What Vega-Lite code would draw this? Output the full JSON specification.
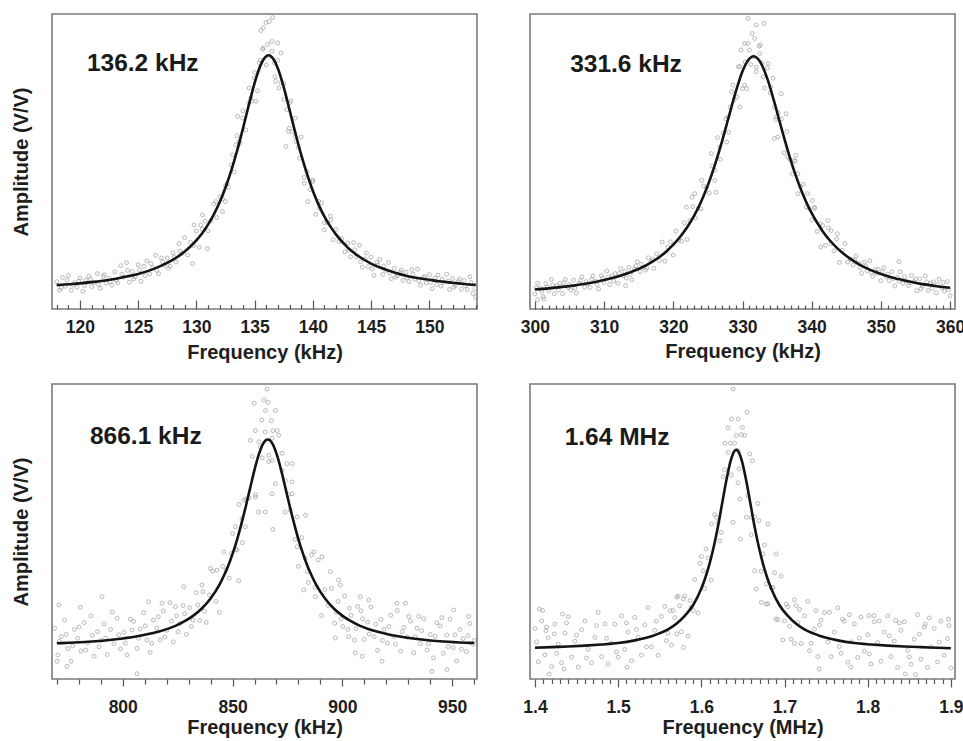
{
"$schema": "https://vega.github.io/schema/vega-lite/v6.json",
"padding": {"left": 10, "top": 12, "right": 0, "bottom": 0},
"background": "white",
"config": {
  "font": "Liberation Sans",
  "view": {"stroke": "#7a7a7a", "strokeWidth": 1.6},
  "axis": {"grid": false, "domain": false, "labelFont": "Liberation Sans", "labelFontSize": 17.5, "labelFontWeight": "bold", "labelColor": "#1e1e1e", "titleFont": "Liberation Sans", "titleFontSize": 20, "titleFontWeight": "bold", "titleColor": "#1e1e1e", "tickColor": "#555555", "tickWidth": 1.2, "labelOverlap": false, "labelFlush": false, "labelBound": false},
  "axisY": {"titlePadding": 21},
  "axisX": {"titlePadding": 2}
},
"datasets": {
"p1": [
{"freq":118.00,"amp":0.093},{"freq":118.25,"amp":0.064},{"freq":118.50,"amp":0.107},{"freq":118.75,"amp":0.077},{"freq":119.00,"amp":0.114},{"freq":119.25,"amp":0.063},{"freq":119.50,"amp":0.089},{"freq":119.75,"amp":0.074},{"freq":120.00,"amp":0.105},{"freq":120.25,"amp":0.060},{"freq":120.50,"amp":0.098},{"freq":120.75,"amp":0.111},{"freq":121.00,"amp":0.076},{"freq":121.25,"amp":0.090},{"freq":121.50,"amp":0.120},{"freq":121.75,"amp":0.070},{"freq":122.00,"amp":0.110},{"freq":122.25,"amp":0.088},{"freq":122.50,"amp":0.105},{"freq":122.75,"amp":0.081},{"freq":123.00,"amp":0.126},{"freq":123.25,"amp":0.089},{"freq":123.50,"amp":0.147},{"freq":123.75,"amp":0.108},{"freq":124.00,"amp":0.157},{"freq":124.25,"amp":0.091},{"freq":124.50,"amp":0.127},{"freq":124.75,"amp":0.109},{"freq":125.00,"amp":0.150},{"freq":125.25,"amp":0.094},{"freq":125.50,"amp":0.145},{"freq":125.75,"amp":0.163},{"freq":126.00,"amp":0.119},{"freq":126.25,"amp":0.140},{"freq":126.50,"amp":0.182},{"freq":126.75,"amp":0.120},{"freq":127.00,"amp":0.173},{"freq":127.25,"amp":0.148},{"freq":127.50,"amp":0.173},{"freq":127.75,"amp":0.145},{"freq":128.00,"amp":0.191},{"freq":128.25,"amp":0.159},{"freq":128.50,"amp":0.222},{"freq":128.75,"amp":0.188},{"freq":129.00,"amp":0.242},{"freq":129.25,"amp":0.183},{"freq":129.50,"amp":0.226},{"freq":129.75,"amp":0.215},{"freq":130.00,"amp":0.264},{"freq":130.25,"amp":0.209},{"freq":130.50,"amp":0.270},{"freq":130.75,"amp":0.298},{"freq":131.00,"amp":0.265},{"freq":131.25,"amp":0.300},{"freq":131.50,"amp":0.356},{"freq":131.75,"amp":0.310},{"freq":132.00,"amp":0.380},{"freq":132.25,"amp":0.373},{"freq":132.50,"amp":0.418},{"freq":132.75,"amp":0.412},{"freq":133.00,"amp":0.489},{"freq":133.25,"amp":0.464},{"freq":133.50,"amp":0.587},{"freq":133.75,"amp":0.562},{"freq":134.00,"amp":0.672},{"freq":134.25,"amp":0.607},{"freq":134.50,"amp":0.699},{"freq":134.75,"amp":0.705},{"freq":135.00,"amp":0.802},{"freq":135.25,"amp":0.740},{"freq":135.50,"amp":0.843},{"freq":135.75,"amp":0.885},{"freq":136.00,"amp":0.827},{"freq":136.25,"amp":0.856},{"freq":136.50,"amp":0.907},{"freq":136.75,"amp":0.788},{"freq":137.00,"amp":0.843},{"freq":137.25,"amp":0.767},{"freq":137.50,"amp":0.764},{"freq":137.75,"amp":0.676},{"freq":138.00,"amp":0.699},{"freq":138.25,"amp":0.600},{"freq":138.50,"amp":0.647},{"freq":138.75,"amp":0.548},{"freq":139.00,"amp":0.583},{"freq":139.25,"amp":0.446},{"freq":139.50,"amp":0.466},{"freq":139.75,"amp":0.405},{"freq":140.00,"amp":0.437},{"freq":140.25,"amp":0.321},{"freq":140.50,"amp":0.365},{"freq":140.75,"amp":0.360},{"freq":141.00,"amp":0.293},{"freq":141.25,"amp":0.293},{"freq":141.50,"amp":0.315},{"freq":141.75,"amp":0.235},{"freq":142.00,"amp":0.270},{"freq":142.25,"amp":0.229},{"freq":142.50,"amp":0.238},{"freq":142.75,"amp":0.194},{"freq":143.00,"amp":0.224},{"freq":143.25,"amp":0.177},{"freq":143.50,"amp":0.225},{"freq":143.75,"amp":0.177},{"freq":144.00,"amp":0.216},{"freq":144.25,"amp":0.142},{"freq":144.50,"amp":0.170},{"freq":144.75,"amp":0.144},{"freq":145.00,"amp":0.177},{"freq":145.25,"amp":0.114},{"freq":145.50,"amp":0.158},{"freq":145.75,"amp":0.168},{"freq":146.00,"amp":0.117},{"freq":146.25,"amp":0.131},{"freq":146.50,"amp":0.158},{"freq":146.75,"amp":0.103},{"freq":147.00,"amp":0.138},{"freq":147.25,"amp":0.112},{"freq":147.50,"amp":0.125},{"freq":147.75,"amp":0.097},{"freq":148.00,"amp":0.125},{"freq":148.25,"amp":0.093},{"freq":148.50,"amp":0.134},{"freq":148.75,"amp":0.101},{"freq":149.00,"amp":0.135},{"freq":149.25,"amp":0.081},{"freq":149.50,"amp":0.106},{"freq":149.75,"amp":0.088},{"freq":150.00,"amp":0.117},{"freq":150.25,"amp":0.069},{"freq":150.50,"amp":0.105},{"freq":150.75,"amp":0.115},{"freq":151.00,"amp":0.078},{"freq":151.25,"amp":0.090},{"freq":151.50,"amp":0.118},{"freq":151.75,"amp":0.066},{"freq":152.00,"amp":0.103},{"freq":152.25,"amp":0.079},{"freq":152.50,"amp":0.093},{"freq":152.75,"amp":0.067},{"freq":153.00,"amp":0.097},{"freq":153.25,"amp":0.066},{"freq":153.50,"amp":0.109},{"freq":153.75,"amp":0.053},{"freq":154.00,"amp":0.040},
{"freq":135.54,"amp":0.944},{"freq":135.97,"amp":0.971},{"freq":136.26,"amp":0.974},{"freq":136.55,"amp":0.988},{"freq":135.75,"amp":0.953},{"freq":136.12,"amp":0.897},{"freq":135.69,"amp":0.880},{"freq":136.49,"amp":0.874},{"freq":136.98,"amp":0.902},{"freq":137.27,"amp":0.868},{"freq":135.40,"amp":0.834},{"freq":136.70,"amp":0.834},{"freq":136.80,"amp":0.772},{"freq":137.10,"amp":0.749},{"freq":137.50,"amp":0.710},{"freq":138.10,"amp":0.706},{"freq":137.70,"amp":0.551},{"freq":137.90,"amp":0.602},{"freq":138.50,"amp":0.585},{"freq":137.98,"amp":0.613},{"freq":138.56,"amp":0.568},{"freq":138.85,"amp":0.511},{"freq":139.28,"amp":0.426},{"freq":140.00,"amp":0.432},{"freq":139.56,"amp":0.364},{"freq":140.57,"amp":0.341},{"freq":141.57,"amp":0.302},{"freq":140.99,"amp":0.268},{"freq":134.68,"amp":0.715},{"freq":133.97,"amp":0.647},{"freq":133.53,"amp":0.653},{"freq":133.68,"amp":0.568},{"freq":133.10,"amp":0.523},{"freq":133.39,"amp":0.557},{"freq":132.67,"amp":0.426},{"freq":132.47,"amp":0.364},{"freq":131.67,"amp":0.364},{"freq":132.24,"amp":0.330},{"freq":130.52,"amp":0.319},{"freq":129.80,"amp":0.285},{"freq":130.38,"amp":0.285},{"freq":129.66,"amp":0.154},{"freq":130.95,"amp":0.205},{"freq":135.11,"amp":0.704},{"freq":134.97,"amp":0.783},{"freq":134.54,"amp":0.749},
{"freq":118.4,"amp":0.072},{"freq":118.9,"amp":0.098},{"freq":119.4,"amp":0.081},{"freq":119.9,"amp":0.094},{"freq":120.4,"amp":0.079},{"freq":120.9,"amp":0.101},{"freq":121.6,"amp":0.083},{"freq":122.1,"amp":0.116},{"freq":122.6,"amp":0.092},{"freq":123.1,"amp":0.097},{"freq":123.6,"amp":0.118},{"freq":124.1,"amp":0.131},{"freq":124.6,"amp":0.102},{"freq":125.1,"amp":0.133},{"freq":125.6,"amp":0.113},{"freq":126.1,"amp":0.154},{"freq":126.6,"amp":0.131},{"freq":127.1,"amp":0.160},{"freq":127.6,"amp":0.138},{"freq":128.1,"amp":0.176},{"freq":128.6,"amp":0.196},
{"freq":143.1,"amp":0.199},{"freq":143.6,"amp":0.201},{"freq":144.1,"amp":0.160},{"freq":144.6,"amp":0.190},{"freq":145.1,"amp":0.136},{"freq":145.6,"amp":0.150},{"freq":146.1,"amp":0.146},{"freq":146.6,"amp":0.122},{"freq":147.1,"amp":0.108},{"freq":147.6,"amp":0.132},{"freq":148.1,"amp":0.105},{"freq":148.6,"amp":0.118},{"freq":149.1,"amp":0.096},{"freq":149.6,"amp":0.110},{"freq":150.1,"amp":0.090},{"freq":150.6,"amp":0.083},{"freq":151.1,"amp":0.101},{"freq":151.6,"amp":0.095},{"freq":152.1,"amp":0.074},{"freq":152.6,"amp":0.102},{"freq":153.1,"amp":0.079},{"freq":153.6,"amp":0.090},{"freq":153.9,"amp":0.070}
],
"l1": [
{"freq":118,"amp":0.081},{"freq":119,"amp":0.084},{"freq":120,"amp":0.087},{"freq":121,"amp":0.091},{"freq":122,"amp":0.096},{"freq":123,"amp":0.102},{"freq":124,"amp":0.110},{"freq":125,"amp":0.119},{"freq":126,"amp":0.131},{"freq":127,"amp":0.147},{"freq":128,"amp":0.167},{"freq":129,"amp":0.195},{"freq":130,"amp":0.233},{"freq":130.5,"amp":0.257},{"freq":131,"amp":0.286},{"freq":131.5,"amp":0.321},{"freq":132,"amp":0.362},{"freq":132.5,"amp":0.412},{"freq":133,"amp":0.470},{"freq":133.5,"amp":0.537},{"freq":134,"amp":0.612},{"freq":134.5,"amp":0.691},{"freq":135,"amp":0.766},{"freq":135.5,"amp":0.825},{"freq":135.75,"amp":0.845},{"freq":136,"amp":0.857},{"freq":136.2,"amp":0.860},{"freq":136.5,"amp":0.853},{"freq":136.75,"amp":0.838},{"freq":137,"amp":0.815},{"freq":137.5,"amp":0.752},{"freq":138,"amp":0.675},{"freq":138.5,"amp":0.597},{"freq":139,"amp":0.523},{"freq":139.5,"amp":0.458},{"freq":140,"amp":0.401},{"freq":140.5,"amp":0.353},{"freq":141,"amp":0.313},{"freq":141.5,"amp":0.280},{"freq":142,"amp":0.252},{"freq":143,"amp":0.208},{"freq":144,"amp":0.177},{"freq":145,"amp":0.154},{"freq":146,"amp":0.137},{"freq":147,"amp":0.124},{"freq":148,"amp":0.113},{"freq":149,"amp":0.105},{"freq":150,"amp":0.099},{"freq":151,"amp":0.093},{"freq":152,"amp":0.089},{"freq":153,"amp":0.085},{"freq":154,"amp":0.082}
],
"p2": [
{"freq":300.0,"amp":0.051},{"freq":300.4,"amp":0.088},{"freq":300.8,"amp":0.070},{"freq":301.2,"amp":0.042},{"freq":301.6,"amp":0.086},{"freq":302.0,"amp":0.062},{"freq":302.4,"amp":0.100},{"freq":302.8,"amp":0.052},{"freq":303.2,"amp":0.079},{"freq":303.6,"amp":0.087},{"freq":304.0,"amp":0.052},{"freq":304.4,"amp":0.100},{"freq":304.8,"amp":0.073},{"freq":305.2,"amp":0.064},{"freq":305.6,"amp":0.098},{"freq":306.0,"amp":0.054},{"freq":306.4,"amp":0.087},{"freq":306.8,"amp":0.109},{"freq":307.2,"amp":0.074},{"freq":307.6,"amp":0.085},{"freq":308.0,"amp":0.073},{"freq":308.4,"amp":0.112},{"freq":308.8,"amp":0.095},{"freq":309.2,"amp":0.068},{"freq":309.6,"amp":0.113},{"freq":310.0,"amp":0.090},{"freq":310.4,"amp":0.129},{"freq":310.8,"amp":0.083},{"freq":311.2,"amp":0.112},{"freq":311.6,"amp":0.120},{"freq":312.0,"amp":0.087},{"freq":312.4,"amp":0.137},{"freq":312.8,"amp":0.112},{"freq":313.2,"amp":0.105},{"freq":313.6,"amp":0.141},{"freq":314.0,"amp":0.099},{"freq":314.4,"amp":0.135},{"freq":314.8,"amp":0.160},{"freq":315.2,"amp":0.127},{"freq":315.6,"amp":0.141},{"freq":316.0,"amp":0.132},{"freq":316.4,"amp":0.174},{"freq":316.8,"amp":0.161},{"freq":317.2,"amp":0.138},{"freq":317.6,"amp":0.187},{"freq":318.0,"amp":0.164},{"freq":318.4,"amp":0.227},{"freq":318.8,"amp":0.162},{"freq":319.2,"amp":0.210},{"freq":319.6,"amp":0.228},{"freq":320.0,"amp":0.183},{"freq":320.4,"amp":0.264},{"freq":320.8,"amp":0.233},{"freq":321.2,"amp":0.230},{"freq":321.6,"amp":0.292},{"freq":322.0,"amp":0.236},{"freq":322.4,"amp":0.300},{"freq":322.8,"amp":0.347},{"freq":323.2,"amp":0.308},{"freq":323.6,"amp":0.341},{"freq":324.0,"amp":0.340},{"freq":324.4,"amp":0.417},{"freq":324.8,"amp":0.412},{"freq":325.2,"amp":0.393},{"freq":325.6,"amp":0.485},{"freq":326.0,"amp":0.470},{"freq":326.4,"amp":0.581},{"freq":326.8,"amp":0.507},{"freq":327.2,"amp":0.596},{"freq":327.6,"amp":0.644},{"freq":328.0,"amp":0.599},{"freq":328.4,"amp":0.737},{"freq":328.8,"amp":0.709},{"freq":329.2,"amp":0.719},{"freq":329.6,"amp":0.822},{"freq":330.0,"amp":0.747},{"freq":330.4,"amp":0.837},{"freq":330.8,"amp":0.900},{"freq":331.2,"amp":0.829},{"freq":331.6,"amp":0.855},{"freq":332.0,"amp":0.820},{"freq":332.4,"amp":0.891},{"freq":332.8,"amp":0.833},{"freq":333.2,"amp":0.749},{"freq":333.6,"amp":0.817},{"freq":334.0,"amp":0.732},{"freq":334.4,"amp":0.782},{"freq":334.8,"amp":0.642},{"freq":335.2,"amp":0.665},{"freq":335.6,"amp":0.644},{"freq":336.0,"amp":0.530},{"freq":336.4,"amp":0.602},{"freq":336.8,"amp":0.508},{"freq":337.2,"amp":0.457},{"freq":337.6,"amp":0.501},{"freq":338.0,"amp":0.391},{"freq":338.4,"amp":0.415},{"freq":338.8,"amp":0.423},{"freq":339.2,"amp":0.346},{"freq":339.6,"amp":0.341},{"freq":340.0,"amp":0.302},{"freq":340.4,"amp":0.341},{"freq":340.8,"amp":0.263},{"freq":341.2,"amp":0.288},{"freq":341.6,"amp":0.283},{"freq":342.0,"amp":0.216},{"freq":342.4,"amp":0.275},{"freq":342.8,"amp":0.222},{"freq":343.2,"amp":0.197},{"freq":343.6,"amp":0.237},{"freq":344.0,"amp":0.158},{"freq":344.4,"amp":0.199},{"freq":344.8,"amp":0.222},{"freq":345.2,"amp":0.159},{"freq":345.6,"amp":0.168},{"freq":346.0,"amp":0.149},{"freq":346.4,"amp":0.180},{"freq":346.8,"amp":0.155},{"freq":347.2,"amp":0.121},{"freq":347.6,"amp":0.159},{"freq":348.0,"amp":0.130},{"freq":348.4,"amp":0.163},{"freq":348.8,"amp":0.111},{"freq":349.2,"amp":0.133},{"freq":349.6,"amp":0.135},{"freq":350.0,"amp":0.096},{"freq":350.4,"amp":0.140},{"freq":350.8,"amp":0.109},{"freq":351.2,"amp":0.096},{"freq":351.6,"amp":0.126},{"freq":352.0,"amp":0.078},{"freq":352.4,"amp":0.107},{"freq":352.8,"amp":0.126},{"freq":353.2,"amp":0.087},{"freq":353.6,"amp":0.095},{"freq":354.0,"amp":0.079},{"freq":354.4,"amp":0.114},{"freq":354.8,"amp":0.093},{"freq":355.2,"amp":0.062},{"freq":355.6,"amp":0.103},{"freq":356.0,"amp":0.077},{"freq":356.4,"amp":0.112},{"freq":356.8,"amp":0.063},{"freq":357.2,"amp":0.088},{"freq":357.6,"amp":0.092},{"freq":358.0,"amp":0.055},{"freq":358.4,"amp":0.101},{"freq":358.8,"amp":0.072},{"freq":359.2,"amp":0.061},{"freq":359.6,"amp":0.093},{"freq":360.0,"amp":0.045},
{"freq":330.8,"amp":0.985},{"freq":332.0,"amp":0.963},{"freq":333.1,"amp":0.968},{"freq":331.4,"amp":0.934},{"freq":331.75,"amp":0.917},{"freq":330.3,"amp":0.900},{"freq":329.8,"amp":0.878},{"freq":331.0,"amp":0.878},{"freq":332.6,"amp":0.895},{"freq":332.5,"amp":0.866},{"freq":333.7,"amp":0.832},{"freq":332.0,"amp":0.804},{"freq":333.0,"amp":0.787},{"freq":329.4,"amp":0.821},{"freq":328.6,"amp":0.759},{"freq":330.3,"amp":0.759},{"freq":330.6,"amp":0.747},{"freq":329.6,"amp":0.685},{"freq":328.2,"amp":0.685},{"freq":327.9,"amp":0.651},{"freq":327.7,"amp":0.566},{"freq":334.1,"amp":0.753},{"freq":334.6,"amp":0.685},{"freq":335.6,"amp":0.730},{"freq":334.9,"amp":0.651},{"freq":336.3,"amp":0.662},{"freq":335.1,"amp":0.583},{"freq":334.6,"amp":0.578},{"freq":336.5,"amp":0.515},{"freq":337.7,"amp":0.521},{"freq":338.0,"amp":0.459},{"freq":337.5,"amp":0.504},{"freq":326.7,"amp":0.549},{"freq":326.2,"amp":0.396},{"freq":326.0,"amp":0.436},{"freq":325.5,"amp":0.527},{"freq":324.1,"amp":0.436},{"freq":323.1,"amp":0.391},{"freq":322.7,"amp":0.379},{"freq":321.9,"amp":0.345},{"freq":339.4,"amp":0.391},{"freq":340.1,"amp":0.368},{"freq":340.4,"amp":0.345},{"freq":342.3,"amp":0.300},{"freq":342.8,"amp":0.266},{"freq":343.7,"amp":0.255},{"freq":341.3,"amp":0.210},{"freq":352.6,"amp":0.161},{"freq":300.4,"amp":0.031},{"freq":301.3,"amp":0.034},{"freq":313.1,"amp":0.079},
{"freq":300.2,"amp":0.072},{"freq":301.0,"amp":0.060},{"freq":301.8,"amp":0.075},{"freq":302.6,"amp":0.081},{"freq":303.4,"amp":0.064},{"freq":304.2,"amp":0.089},{"freq":305.0,"amp":0.083},{"freq":305.8,"amp":0.071},{"freq":306.6,"amp":0.096},{"freq":307.4,"amp":0.093},{"freq":308.2,"amp":0.101},{"freq":309.0,"amp":0.083},{"freq":309.8,"amp":0.104},{"freq":310.6,"amp":0.108},{"freq":311.4,"amp":0.095},{"freq":312.2,"amp":0.121},{"freq":313.0,"amp":0.127},{"freq":313.8,"amp":0.117},{"freq":314.6,"amp":0.146},{"freq":315.4,"amp":0.152},{"freq":316.2,"amp":0.139},{"freq":317.0,"amp":0.168},
{"freq":346.2,"amp":0.166},{"freq":347.0,"amp":0.140},{"freq":347.8,"amp":0.146},{"freq":348.6,"amp":0.124},{"freq":349.4,"amp":0.121},{"freq":350.2,"amp":0.126},{"freq":351.0,"amp":0.118},{"freq":351.8,"amp":0.103},{"freq":352.6,"amp":0.094},{"freq":353.4,"amp":0.110},{"freq":354.2,"amp":0.089},{"freq":355.0,"amp":0.101},{"freq":355.8,"amp":0.069},{"freq":356.6,"amp":0.092},{"freq":357.4,"amp":0.070},{"freq":358.2,"amp":0.083},{"freq":359.0,"amp":0.090},{"freq":359.8,"amp":0.066}
],
"l2": [
{"freq":300,"amp":0.066},{"freq":302,"amp":0.070},{"freq":304,"amp":0.075},{"freq":306,"amp":0.081},{"freq":308,"amp":0.088},{"freq":310,"amp":0.098},{"freq":312,"amp":0.110},{"freq":314,"amp":0.126},{"freq":316,"amp":0.147},{"freq":318,"amp":0.176},{"freq":319,"amp":0.195},{"freq":320,"amp":0.218},{"freq":321,"amp":0.245},{"freq":322,"amp":0.277},{"freq":323,"amp":0.316},{"freq":324,"amp":0.363},{"freq":325,"amp":0.420},{"freq":326,"amp":0.488},{"freq":327,"amp":0.565},{"freq":328,"amp":0.650},{"freq":329,"amp":0.734},{"freq":330,"amp":0.806},{"freq":331,"amp":0.849},{"freq":331.6,"amp":0.857},{"freq":332.2,"amp":0.849},{"freq":332.6,"amp":0.836},{"freq":333.6,"amp":0.780},{"freq":334.6,"amp":0.701},{"freq":335.6,"amp":0.615},{"freq":336.6,"amp":0.533},{"freq":337.6,"amp":0.459},{"freq":338.6,"amp":0.396},{"freq":339.6,"amp":0.343},{"freq":340.6,"amp":0.300},{"freq":341.6,"amp":0.263},{"freq":342.6,"amp":0.233},{"freq":343.6,"amp":0.208},{"freq":344.6,"amp":0.187},{"freq":345.6,"amp":0.170},{"freq":346.6,"amp":0.155},{"freq":347.6,"amp":0.142},{"freq":349.6,"amp":0.122},{"freq":351.6,"amp":0.107},{"freq":353.6,"amp":0.096},{"freq":355.6,"amp":0.086},{"freq":357.6,"amp":0.079},{"freq":360,"amp":0.072}
],
"p3": [
{"freq":769.0,"amp":0.172},{"freq":770.5,"amp":0.081},{"freq":772.0,"amp":0.144},{"freq":773.5,"amp":0.199},{"freq":775.0,"amp":0.103},{"freq":776.5,"amp":0.060},{"freq":778.0,"amp":0.168},{"freq":779.5,"amp":0.138},{"freq":781.0,"amp":0.095},{"freq":782.5,"amp":0.191},{"freq":784.0,"amp":0.122},{"freq":785.5,"amp":0.214},{"freq":787.0,"amp":0.077},{"freq":788.5,"amp":0.161},{"freq":790.0,"amp":0.131},{"freq":791.5,"amp":0.187},{"freq":793.0,"amp":0.083},{"freq":794.5,"amp":0.168},{"freq":796.0,"amp":0.120},{"freq":797.5,"amp":0.206},{"freq":799.0,"amp":0.102},{"freq":800.5,"amp":0.158},{"freq":802.0,"amp":0.082},{"freq":803.5,"amp":0.203},{"freq":805.0,"amp":0.195},{"freq":806.5,"amp":0.104},{"freq":808.0,"amp":0.169},{"freq":809.5,"amp":0.225},{"freq":811.0,"amp":0.132},{"freq":812.5,"amp":0.090},{"freq":814.0,"amp":0.200},{"freq":815.5,"amp":0.173},{"freq":817.0,"amp":0.132},{"freq":818.5,"amp":0.231},{"freq":820.0,"amp":0.165},{"freq":821.5,"amp":0.259},{"freq":823.0,"amp":0.126},{"freq":824.5,"amp":0.214},{"freq":826.0,"amp":0.188},{"freq":827.5,"amp":0.249},{"freq":829.0,"amp":0.151},{"freq":830.5,"amp":0.242},{"freq":832.0,"amp":0.200},{"freq":833.5,"amp":0.293},{"freq":835.0,"amp":0.198},{"freq":836.5,"amp":0.296},{"freq":838.0,"amp":0.192},{"freq":839.5,"amp":0.285},{"freq":841.0,"amp":0.366},{"freq":842.5,"amp":0.263},{"freq":844.0,"amp":0.226},{"freq":845.5,"amp":0.382},{"freq":847.0,"amp":0.370},{"freq":848.5,"amp":0.342},{"freq":850.0,"amp":0.493},{"freq":851.5,"amp":0.439},{"freq":853.0,"amp":0.592},{"freq":854.5,"amp":0.462},{"freq":856.0,"amp":0.610},{"freq":857.5,"amp":0.614},{"freq":859.0,"amp":0.754},{"freq":860.5,"amp":0.625},{"freq":862.0,"amp":0.804},{"freq":863.5,"amp":0.750},{"freq":865.0,"amp":0.910},{"freq":866.5,"amp":0.737},{"freq":868.0,"amp":0.816},{"freq":869.5,"amp":0.662},{"freq":871.0,"amp":0.826},{"freq":872.5,"amp":0.765},{"freq":874.0,"amp":0.566},{"freq":875.5,"amp":0.625},{"freq":877.0,"amp":0.668},{"freq":878.5,"amp":0.473},{"freq":880.0,"amp":0.382},{"freq":881.5,"amp":0.479},{"freq":883.0,"amp":0.410},{"freq":884.5,"amp":0.327},{"freq":886.0,"amp":0.421},{"freq":887.5,"amp":0.310},{"freq":889.0,"amp":0.404},{"freq":890.5,"amp":0.215},{"freq":892.0,"amp":0.303},{"freq":893.5,"amp":0.249},{"freq":895.0,"amp":0.307},{"freq":896.5,"amp":0.189},{"freq":898.0,"amp":0.263},{"freq":899.5,"amp":0.204},{"freq":901.0,"amp":0.281},{"freq":902.5,"amp":0.168},{"freq":904.0,"amp":0.216},{"freq":905.5,"amp":0.132},{"freq":907.0,"amp":0.246},{"freq":908.5,"amp":0.231},{"freq":910.0,"amp":0.134},{"freq":911.5,"amp":0.193},{"freq":913.0,"amp":0.244},{"freq":914.5,"amp":0.144},{"freq":916.0,"amp":0.097},{"freq":917.5,"amp":0.202},{"freq":919.0,"amp":0.169},{"freq":920.5,"amp":0.122},{"freq":922.0,"amp":0.216},{"freq":923.5,"amp":0.144},{"freq":925.0,"amp":0.232},{"freq":926.5,"amp":0.094},{"freq":928.0,"amp":0.175},{"freq":929.5,"amp":0.142},{"freq":931.0,"amp":0.196},{"freq":932.5,"amp":0.089},{"freq":934.0,"amp":0.172},{"freq":935.5,"amp":0.120},{"freq":937.0,"amp":0.204},{"freq":938.5,"amp":0.098},{"freq":940.0,"amp":0.151},{"freq":941.5,"amp":0.072},{"freq":943.0,"amp":0.191},{"freq":944.5,"amp":0.180},{"freq":946.0,"amp":0.087},{"freq":947.5,"amp":0.149},{"freq":949.0,"amp":0.203},{"freq":950.5,"amp":0.106},{"freq":952.0,"amp":0.061},{"freq":953.5,"amp":0.168},{"freq":955.0,"amp":0.137},{"freq":956.5,"amp":0.093},{"freq":958.0,"amp":0.188},{"freq":959.5,"amp":0.118},
{"freq":865.7,"amp":0.983},{"freq":864.2,"amp":0.946},{"freq":859.9,"amp":0.935},{"freq":866.2,"amp":0.938},{"freq":869.5,"amp":0.910},{"freq":867.7,"amp":0.876},{"freq":863.4,"amp":0.878},{"freq":870.3,"amp":0.842},{"freq":860.4,"amp":0.842},{"freq":864.9,"amp":0.837},{"freq":858.1,"amp":0.809},{"freq":868.3,"amp":0.842},{"freq":862.7,"amp":0.786},{"freq":866.5,"amp":0.758},{"freq":868.0,"amp":0.741},{"freq":874.8,"amp":0.730},{"freq":877.1,"amp":0.730},{"freq":872.5,"amp":0.707},{"freq":874.1,"amp":0.673},{"freq":868.0,"amp":0.628},{"freq":877.1,"amp":0.628},{"freq":860.4,"amp":0.617},{"freq":855.1,"amp":0.606},{"freq":861.9,"amp":0.566},{"freq":864.9,"amp":0.566},{"freq":868.3,"amp":0.507},{"freq":876.3,"amp":0.572},{"freq":883.2,"amp":0.555},{"freq":879.4,"amp":0.549},{"freq":854.3,"amp":0.544},{"freq":851.3,"amp":0.516},{"freq":855.8,"amp":0.516},{"freq":852.0,"amp":0.437},{"freq":849.5,"amp":0.426},{"freq":846.0,"amp":0.431},{"freq":852.8,"amp":0.333},{"freq":879.4,"amp":0.448},{"freq":887.0,"amp":0.431},{"freq":890.7,"amp":0.414},{"freq":884.0,"amp":0.364},{"freq":882.4,"amp":0.302},{"freq":894.5,"amp":0.364},{"freq":898.3,"amp":0.336},{"freq":899.1,"amp":0.319},{"freq":887.7,"amp":0.279},{"freq":839.9,"amp":0.375},{"freq":842.9,"amp":0.369},{"freq":836.1,"amp":0.319},{"freq":827.8,"amp":0.313},{"freq":824.0,"amp":0.245},{"freq":817.9,"amp":0.257},{"freq":811.8,"amp":0.262},{"freq":790.6,"amp":0.279},{"freq":780.7,"amp":0.243},{"freq":770.9,"amp":0.251},{"freq":770.1,"amp":0.060},{"freq":774.6,"amp":0.043},{"freq":806.5,"amp":0.018},{"freq":918.1,"amp":0.060},{"freq":940.8,"amp":0.026},{"freq":947.6,"amp":0.032},{"freq":950.7,"amp":0.234},{"freq":957.5,"amp":0.212},{"freq":934.8,"amp":0.212},{"freq":928.7,"amp":0.257},{"freq":924.9,"amp":0.257},{"freq":908.2,"amp":0.279},{"freq":912.0,"amp":0.268},{"freq":902.9,"amp":0.144},{"freq":896.8,"amp":0.139},{"freq":905.9,"amp":0.088},{"freq":909.0,"amp":0.077},
{"freq":771.2,"amp":0.128},{"freq":774.2,"amp":0.151},{"freq":777.2,"amp":0.112},{"freq":780.2,"amp":0.176},{"freq":783.2,"amp":0.098},{"freq":786.2,"amp":0.148},{"freq":789.2,"amp":0.109},{"freq":792.2,"amp":0.139},{"freq":795.2,"amp":0.226},{"freq":798.2,"amp":0.150},{"freq":801.2,"amp":0.121},{"freq":804.2,"amp":0.166},{"freq":807.2,"amp":0.138},{"freq":810.2,"amp":0.180},{"freq":813.2,"amp":0.121},{"freq":816.2,"amp":0.211},{"freq":819.2,"amp":0.142},{"freq":822.2,"amp":0.196},{"freq":825.2,"amp":0.160},{"freq":828.2,"amp":0.221},{"freq":831.2,"amp":0.178},{"freq":834.2,"amp":0.251},{"freq":837.2,"amp":0.230},
{"freq":897.2,"amp":0.226},{"freq":900.2,"amp":0.178},{"freq":903.2,"amp":0.240},{"freq":906.2,"amp":0.171},{"freq":909.2,"amp":0.204},{"freq":912.2,"amp":0.152},{"freq":915.2,"amp":0.186},{"freq":918.2,"amp":0.131},{"freq":921.2,"amp":0.178},{"freq":924.2,"amp":0.118},{"freq":927.2,"amp":0.160},{"freq":930.2,"amp":0.212},{"freq":933.2,"amp":0.143},{"freq":936.2,"amp":0.164},{"freq":939.2,"amp":0.120},{"freq":942.2,"amp":0.145},{"freq":945.2,"amp":0.208},{"freq":948.2,"amp":0.110},{"freq":951.2,"amp":0.150},{"freq":954.2,"amp":0.101},{"freq":957.2,"amp":0.147},{"freq":960.0,"amp":0.131}
],
"l3": [
{"freq":770,"amp":0.121},{"freq":776,"amp":0.123},{"freq":786,"amp":0.127},{"freq":796,"amp":0.134},{"freq":806,"amp":0.144},{"freq":816,"amp":0.160},{"freq":824,"amp":0.180},{"freq":828,"amp":0.195},{"freq":832,"amp":0.214},{"freq":836,"amp":0.239},{"freq":840,"amp":0.273},{"freq":844,"amp":0.319},{"freq":846,"amp":0.349},{"freq":848,"amp":0.383},{"freq":850,"amp":0.424},{"freq":852,"amp":0.471},{"freq":854,"amp":0.525},{"freq":856,"amp":0.584},{"freq":858,"amp":0.647},{"freq":860,"amp":0.709},{"freq":862,"amp":0.762},{"freq":864,"amp":0.799},{"freq":866.1,"amp":0.812},{"freq":868.1,"amp":0.799},{"freq":870.1,"amp":0.762},{"freq":872.1,"amp":0.709},{"freq":874.1,"amp":0.647},{"freq":876.1,"amp":0.584},{"freq":878.1,"amp":0.525},{"freq":880.1,"amp":0.471},{"freq":882.1,"amp":0.424},{"freq":884.1,"amp":0.383},{"freq":886.1,"amp":0.349},{"freq":888.1,"amp":0.319},{"freq":892.1,"amp":0.273},{"freq":896.1,"amp":0.239},{"freq":900.1,"amp":0.214},{"freq":904.1,"amp":0.195},{"freq":908.1,"amp":0.180},{"freq":912.1,"amp":0.169},{"freq":916.1,"amp":0.160},{"freq":921.1,"amp":0.151},{"freq":926.1,"amp":0.144},{"freq":936.1,"amp":0.134},{"freq":946.1,"amp":0.127},{"freq":956.1,"amp":0.123},{"freq":960,"amp":0.122}
],
"p4": [
{"freq":1.400,"amp":0.171},{"freq":1.404,"amp":0.058},{"freq":1.408,"amp":0.197},{"freq":1.412,"amp":0.082},{"freq":1.416,"amp":0.139},{"freq":1.420,"amp":0.042},{"freq":1.424,"amp":0.186},{"freq":1.428,"amp":0.118},{"freq":1.432,"amp":0.055},{"freq":1.436,"amp":0.156},{"freq":1.440,"amp":0.211},{"freq":1.444,"amp":0.074},{"freq":1.448,"amp":0.128},{"freq":1.452,"amp":0.040},{"freq":1.456,"amp":0.167},{"freq":1.460,"amp":0.197},{"freq":1.464,"amp":0.100},{"freq":1.468,"amp":0.055},{"freq":1.472,"amp":0.141},{"freq":1.476,"amp":0.226},{"freq":1.480,"amp":0.076},{"freq":1.484,"amp":0.187},{"freq":1.488,"amp":0.051},{"freq":1.492,"amp":0.122},{"freq":1.496,"amp":0.186},{"freq":1.500,"amp":0.074},{"freq":1.504,"amp":0.214},{"freq":1.508,"amp":0.100},{"freq":1.512,"amp":0.159},{"freq":1.516,"amp":0.062},{"freq":1.520,"amp":0.209},{"freq":1.524,"amp":0.142},{"freq":1.528,"amp":0.081},{"freq":1.532,"amp":0.184},{"freq":1.536,"amp":0.242},{"freq":1.540,"amp":0.109},{"freq":1.544,"amp":0.165},{"freq":1.548,"amp":0.080},{"freq":1.552,"amp":0.212},{"freq":1.556,"amp":0.246},{"freq":1.560,"amp":0.155},{"freq":1.564,"amp":0.115},{"freq":1.568,"amp":0.208},{"freq":1.572,"amp":0.281},{"freq":1.576,"amp":0.160},{"freq":1.580,"amp":0.282},{"freq":1.584,"amp":0.145},{"freq":1.588,"amp":0.243},{"freq":1.592,"amp":0.337},{"freq":1.596,"amp":0.224},{"freq":1.600,"amp":0.415},{"freq":1.604,"amp":0.307},{"freq":1.608,"amp":0.410},{"freq":1.612,"amp":0.335},{"freq":1.616,"amp":0.557},{"freq":1.620,"amp":0.529},{"freq":1.624,"amp":0.497},{"freq":1.628,"amp":0.710},{"freq":1.632,"amp":0.852},{"freq":1.636,"amp":0.692},{"freq":1.640,"amp":0.799},{"freq":1.644,"amp":0.665},{"freq":1.648,"amp":0.829},{"freq":1.652,"amp":0.826},{"freq":1.656,"amp":0.621},{"freq":1.660,"amp":0.489},{"freq":1.664,"amp":0.549},{"freq":1.668,"amp":0.595},{"freq":1.672,"amp":0.365},{"freq":1.676,"amp":0.455},{"freq":1.680,"amp":0.255},{"freq":1.684,"amp":0.309},{"freq":1.688,"amp":0.360},{"freq":1.692,"amp":0.201},{"freq":1.696,"amp":0.349},{"freq":1.700,"amp":0.197},{"freq":1.704,"amp":0.245},{"freq":1.708,"amp":0.135},{"freq":1.712,"amp":0.269},{"freq":1.716,"amp":0.191},{"freq":1.720,"amp":0.120},{"freq":1.724,"amp":0.214},{"freq":1.728,"amp":0.263},{"freq":1.732,"amp":0.121},{"freq":1.736,"amp":0.169},{"freq":1.740,"amp":0.076},{"freq":1.744,"amp":0.200},{"freq":1.748,"amp":0.225},{"freq":1.752,"amp":0.125},{"freq":1.756,"amp":0.076},{"freq":1.760,"amp":0.159},{"freq":1.764,"amp":0.241},{"freq":1.768,"amp":0.087},{"freq":1.772,"amp":0.196},{"freq":1.776,"amp":0.057},{"freq":1.780,"amp":0.126},{"freq":1.784,"amp":0.187},{"freq":1.788,"amp":0.073},{"freq":1.792,"amp":0.210},{"freq":1.796,"amp":0.094},{"freq":1.800,"amp":0.150},{"freq":1.804,"amp":0.051},{"freq":1.808,"amp":0.194},{"freq":1.812,"amp":0.124},{"freq":1.816,"amp":0.060},{"freq":1.820,"amp":0.159},{"freq":1.824,"amp":0.214},{"freq":1.828,"amp":0.076},{"freq":1.832,"amp":0.129},{"freq":1.836,"amp":0.039},{"freq":1.840,"amp":0.165},{"freq":1.844,"amp":0.194},{"freq":1.848,"amp":0.097},{"freq":1.852,"amp":0.050},{"freq":1.856,"amp":0.135},{"freq":1.860,"amp":0.218},{"freq":1.864,"amp":0.067},{"freq":1.868,"amp":0.176},{"freq":1.872,"amp":0.039},{"freq":1.876,"amp":0.109},{"freq":1.880,"amp":0.171},{"freq":1.884,"amp":0.058},{"freq":1.888,"amp":0.196},{"freq":1.892,"amp":0.080},{"freq":1.896,"amp":0.137},{"freq":1.900,"amp":0.038},
{"freq":1.6382,"amp":0.983},{"freq":1.6363,"amp":0.881},{"freq":1.6442,"amp":0.881},{"freq":1.655,"amp":0.904},{"freq":1.6494,"amp":0.853},{"freq":1.6422,"amp":0.825},{"freq":1.6283,"amp":0.799},{"freq":1.6351,"amp":0.799},{"freq":1.6442,"amp":0.774},{"freq":1.6582,"amp":0.763},{"freq":1.6614,"amp":0.740},{"freq":1.6323,"amp":0.768},{"freq":1.6454,"amp":0.712},{"freq":1.6263,"amp":0.686},{"freq":1.6462,"amp":0.610},{"freq":1.6542,"amp":0.548},{"freq":1.6602,"amp":0.548},{"freq":1.6382,"amp":0.531},{"freq":1.647,"amp":0.475},{"freq":1.6183,"amp":0.548},{"freq":1.6124,"amp":0.525},{"freq":1.6223,"amp":0.469},{"freq":1.6056,"amp":0.441},{"freq":1.5984,"amp":0.392},{"freq":1.6024,"amp":0.367},{"freq":1.6693,"amp":0.537},{"freq":1.6801,"amp":0.525},{"freq":1.6741,"amp":0.424},{"freq":1.69,"amp":0.424},{"freq":1.6641,"amp":0.367},{"freq":1.6661,"amp":0.305},{"freq":1.6781,"amp":0.322},{"freq":1.6861,"amp":0.311},{"freq":1.6721,"amp":0.260},{"freq":1.6781,"amp":0.254},{"freq":1.702,"amp":0.254},{"freq":1.714,"amp":0.249},{"freq":1.69,"amp":0.203},{"freq":1.698,"amp":0.132},{"freq":1.712,"amp":0.121},{"freq":1.5865,"amp":0.266},{"freq":1.5904,"amp":0.232},{"freq":1.5705,"amp":0.277},{"freq":1.5785,"amp":0.271},{"freq":1.5625,"amp":0.232},{"freq":1.5705,"amp":0.153},{"freq":1.5785,"amp":0.107},{"freq":1.4052,"amp":0.237},{"freq":1.4092,"amp":0.232},{"freq":1.4131,"amp":0.164},{"freq":1.4231,"amp":0.153},{"freq":1.4331,"amp":0.220},{"freq":1.4171,"amp":0.017},{"freq":1.4351,"amp":0.034},{"freq":1.5108,"amp":0.040},{"freq":1.8454,"amp":0.017},{"freq":1.8574,"amp":0.015},{"freq":1.8016,"amp":0.215},{"freq":1.8076,"amp":0.215},{"freq":1.8335,"amp":0.198},{"freq":1.8972,"amp":0.203},{"freq":1.8693,"amp":0.186},{"freq":1.7697,"amp":0.203},{"freq":1.7378,"amp":0.232},{"freq":1.7418,"amp":0.034},{"freq":1.7797,"amp":0.040},
{"freq":1.402,"amp":0.126},{"freq":1.414,"amp":0.176},{"freq":1.426,"amp":0.087},{"freq":1.438,"amp":0.190},{"freq":1.450,"amp":0.149},{"freq":1.462,"amp":0.071},{"freq":1.474,"amp":0.181},{"freq":1.486,"amp":0.138},{"freq":1.498,"amp":0.092},{"freq":1.510,"amp":0.190},{"freq":1.522,"amp":0.168},{"freq":1.534,"amp":0.109},{"freq":1.546,"amp":0.196},{"freq":1.558,"amp":0.130},{"freq":1.566,"amp":0.232},{"freq":1.574,"amp":0.248},
{"freq":1.706,"amp":0.178},{"freq":1.718,"amp":0.236},{"freq":1.730,"amp":0.096},{"freq":1.742,"amp":0.183},{"freq":1.754,"amp":0.226},{"freq":1.766,"amp":0.110},{"freq":1.778,"amp":0.218},{"freq":1.790,"amp":0.139},{"freq":1.802,"amp":0.085},{"freq":1.814,"amp":0.197},{"freq":1.826,"amp":0.146},{"freq":1.838,"amp":0.190},{"freq":1.850,"amp":0.075},{"freq":1.862,"amp":0.152},{"freq":1.874,"amp":0.207},{"freq":1.886,"amp":0.125},{"freq":1.898,"amp":0.181}
],
"l4": [
{"freq":1.40,"amp":0.106},{"freq":1.42,"amp":0.108},{"freq":1.44,"amp":0.110},{"freq":1.46,"amp":0.113},{"freq":1.48,"amp":0.117},{"freq":1.50,"amp":0.122},{"freq":1.52,"amp":0.131},{"freq":1.54,"amp":0.145},{"freq":1.56,"amp":0.168},{"freq":1.57,"amp":0.187},{"freq":1.58,"amp":0.214},{"freq":1.59,"amp":0.250},{"freq":1.60,"amp":0.307},{"freq":1.605,"amp":0.345},{"freq":1.61,"amp":0.392},{"freq":1.615,"amp":0.449},{"freq":1.62,"amp":0.517},{"freq":1.625,"amp":0.595},{"freq":1.63,"amp":0.672},{"freq":1.635,"amp":0.737},{"freq":1.638,"amp":0.763},{"freq":1.642,"amp":0.777},{"freq":1.646,"amp":0.763},{"freq":1.649,"amp":0.737},{"freq":1.654,"amp":0.672},{"freq":1.659,"amp":0.595},{"freq":1.664,"amp":0.517},{"freq":1.669,"amp":0.449},{"freq":1.674,"amp":0.392},{"freq":1.679,"amp":0.345},{"freq":1.684,"amp":0.307},{"freq":1.694,"amp":0.250},{"freq":1.704,"amp":0.214},{"freq":1.714,"amp":0.187},{"freq":1.724,"amp":0.168},{"freq":1.744,"amp":0.145},{"freq":1.764,"amp":0.131},{"freq":1.784,"amp":0.122},{"freq":1.804,"amp":0.117},{"freq":1.824,"amp":0.113},{"freq":1.844,"amp":0.110},{"freq":1.864,"amp":0.108},{"freq":1.884,"amp":0.106},{"freq":1.90,"amp":0.104}
]
},
"concat": [
{
 "width": 425, "height": 295,
 "layer": [
  {"data": {"name": "p1"}, "mark": {"type": "point", "shape": "circle", "filled": false, "color": "#939393", "size": 15, "strokeWidth": 0.95},
   "encoding": {
    "x": {"field": "freq", "type": "quantitative", "scale": {"domain": [117.6, 154.1], "nice": false, "zero": false},
     "axis": {"title": "Frequency (kHz)", "format": "d", "ticks": true, "tickCount": 500, "labelOverlap": false, "labelPadding": 18, "values": [118,119,120,121,122,123,124,125,126,127,128,129,130,131,132,133,134,135,136,137,138,139,140,141,142,143,144,145,146,147,148,149,150,151,152,153,154],
      "labelExpr": "datum.value % 5 === 0 ? datum.label : ''",
      "tickSize": {"condition": {"test": "datum.value % 5 === 0", "value": -9}, "value": -4.5}}},
    "y": {"field": "amp", "type": "quantitative", "scale": {"domain": [0, 1], "nice": false}, "axis": {"title": "Amplitude (V/V)", "labels": false, "ticks": false}}
   }},
  {"data": {"name": "l1"}, "mark": {"type": "line", "color": "#141414", "strokeWidth": 2.6, "interpolate": "monotone"},
   "encoding": {"x": {"field": "freq", "type": "quantitative"}, "y": {"field": "amp", "type": "quantitative"}}},
  {"data": {"values": [{"label": "136.2 kHz"}]}, "mark": {"type": "text", "align": "left", "baseline": "alphabetic", "fontSize": 24.5, "fontWeight": "bold", "color": "#1a1a1a"},
   "encoding": {"x": {"datum": 120.6}, "y": {"datum": 0.807}, "text": {"field": "label"}}}
 ]
},
{
 "width": 425, "height": 295,
 "layer": [
  {"data": {"name": "p2"}, "mark": {"type": "point", "shape": "circle", "filled": false, "color": "#939393", "size": 15, "strokeWidth": 0.95},
   "encoding": {
    "x": {"field": "freq", "type": "quantitative", "scale": {"domain": [299.3, 360.7], "nice": false, "zero": false},
     "axis": {"title": "Frequency (kHz)", "format": "d", "ticks": true, "tickCount": 500, "labelOverlap": false, "labelPadding": 17, "values": [300,301,302,303,304,305,306,307,308,309,310,311,312,313,314,315,316,317,318,319,320,321,322,323,324,325,326,327,328,329,330,331,332,333,334,335,336,337,338,339,340,341,342,343,344,345,346,347,348,349,350,351,352,353,354,355,356,357,358,359,360],
      "labelExpr": "datum.value % 10 === 0 ? datum.label : ''",
      "tickSize": {"condition": {"test": "datum.value % 10 === 0", "value": -8}, "value": -4}}},
    "y": {"field": "amp", "type": "quantitative", "scale": {"domain": [0, 1], "nice": false}, "axis": null}
   }},
  {"data": {"name": "l2"}, "mark": {"type": "line", "color": "#141414", "strokeWidth": 2.6, "interpolate": "monotone"},
   "encoding": {"x": {"field": "freq", "type": "quantitative"}, "y": {"field": "amp", "type": "quantitative"}}},
  {"data": {"values": [{"label": "331.6 kHz"}]}, "mark": {"type": "text", "align": "left", "baseline": "alphabetic", "fontSize": 24.5, "fontWeight": "bold", "color": "#1a1a1a"},
   "encoding": {"x": {"datum": 305.1}, "y": {"datum": 0.803}, "text": {"field": "label"}}}
 ]
},
{
 "width": 425, "height": 295,
 "layer": [
  {"data": {"name": "p3"}, "mark": {"type": "point", "shape": "circle", "filled": false, "color": "#939393", "size": 15, "strokeWidth": 0.95},
   "encoding": {
    "x": {"field": "freq", "type": "quantitative", "scale": {"domain": [767.8, 961.3], "nice": false, "zero": false},
     "axis": {"title": "Frequency (kHz)", "format": "d", "ticks": true, "tickCount": 500, "labelOverlap": false, "labelPadding": 12, "values": [770,780,790,800,810,820,830,840,850,860,870,880,890,900,910,920,930,940,950,960],
      "labelExpr": "datum.value % 50 === 0 ? datum.label : ''",
      "tickSize": {"condition": {"test": "datum.value % 50 === 0", "value": 7}, "value": 5}}},
    "y": {"field": "amp", "type": "quantitative", "scale": {"domain": [0, 1], "nice": false}, "axis": {"title": "Amplitude (V/V)", "labels": false, "ticks": false}}
   }},
  {"data": {"name": "l3"}, "mark": {"type": "line", "color": "#141414", "strokeWidth": 2.6, "interpolate": "monotone"},
   "encoding": {"x": {"field": "freq", "type": "quantitative"}, "y": {"field": "amp", "type": "quantitative"}}},
  {"data": {"values": [{"label": "866.1 kHz"}]}, "mark": {"type": "text", "align": "left", "baseline": "alphabetic", "fontSize": 24.5, "fontWeight": "bold", "color": "#1a1a1a"},
   "encoding": {"x": {"datum": 785.1}, "y": {"datum": 0.796}, "text": {"field": "label"}}}
 ]
},
{
 "width": 425, "height": 295,
 "layer": [
  {"data": {"name": "p4"}, "mark": {"type": "point", "shape": "circle", "filled": false, "color": "#939393", "size": 15, "strokeWidth": 0.95},
   "encoding": {
    "x": {"field": "freq", "type": "quantitative", "scale": {"domain": [1.394, 1.905], "nice": false, "zero": false},
     "axis": {"title": "Frequency (MHz)", "format": ".1f", "ticks": true, "tickCount": 500, "labelOverlap": false, "labelPadding": 11, "values": [1.4,1.41,1.42,1.43,1.44,1.45,1.46,1.47,1.48,1.49,1.5,1.51,1.52,1.53,1.54,1.55,1.56,1.57,1.58,1.59,1.6,1.61,1.62,1.63,1.64,1.65,1.66,1.67,1.68,1.69,1.7,1.71,1.72,1.73,1.74,1.75,1.76,1.77,1.78,1.79,1.8,1.81,1.82,1.83,1.84,1.85,1.86,1.87,1.88,1.89,1.9],
      "labelExpr": "round(datum.value * 100) % 10 === 0 ? datum.label : ''",
      "tickSize": {"condition": {"test": "round(datum.value * 100) % 10 === 0", "value": 8}, "value": 4.5}}},
    "y": {"field": "amp", "type": "quantitative", "scale": {"domain": [0, 1], "nice": false}, "axis": null}
   }},
  {"data": {"name": "l4"}, "mark": {"type": "line", "color": "#141414", "strokeWidth": 2.6, "interpolate": "monotone"},
   "encoding": {"x": {"field": "freq", "type": "quantitative"}, "y": {"field": "amp", "type": "quantitative"}}},
  {"data": {"values": [{"label": "1.64 MHz"}]}, "mark": {"type": "text", "align": "left", "baseline": "alphabetic", "fontSize": 24.5, "fontWeight": "bold", "color": "#1a1a1a"},
   "encoding": {"x": {"datum": 1.4357}, "y": {"datum": 0.793}, "text": {"field": "label"}}}
 ]
}
],
"columns": 2,
"spacing": {"row": 75, "column": 53},
"bounds": "flush"
}
